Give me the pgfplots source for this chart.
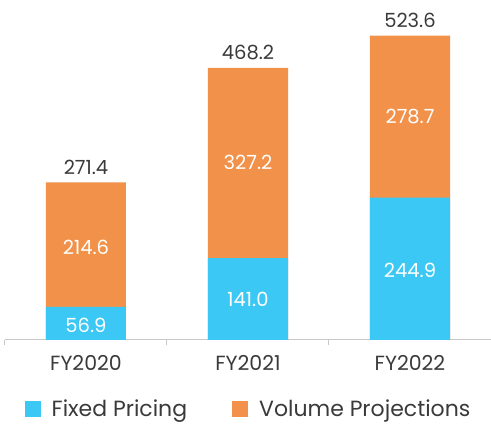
\documentclass[border=0pt]{standalone}
\usepackage{pgfplots}
\pgfplotsset{compat=1.18}
\usepackage{fontspec}
\setmainfont{Poppins}
\definecolor{cblue}{HTML}{3CC8F4}
\definecolor{corange}{HTML}{F2924A}
\definecolor{ctext}{HTML}{3A3A3A}
\definecolor{caxis}{HTML}{C8C8C8}
\begin{document}
\begin{tikzpicture}
\begin{axis}[
  scale only axis, width=486pt, height=340pt,
  xmin=-0.5, xmax=2.5, ymin=0, ymax=585,
  axis x line*=bottom, hide y axis,
  axis line style={caxis, line width=1pt, -},
  xtick={0,1,2}, xticklabels={FY2020,FY2021,FY2022},
  major x tick style={draw=none},
  minor xtick={-0.5,0.5,1.5,2.5},
  minor tick length=5pt, tick align=outside,
  minor x tick style={caxis, line width=1pt},
  xticklabel style={font=\fontsize{20.5}{24}\selectfont, text=ctext, yshift=-8pt},
  legend style={draw=none, fill=none, font=\fontsize{22}{25}\selectfont, text=ctext,
    inner sep=0pt, at={(0.5,-0.172)}, anchor=north, legend columns=2,
    nodes={inner sep=1pt},
    /tikz/every odd column/.append style={column sep=0pt},
    /tikz/every even column/.append style={column sep=44pt}},
  legend image code/.code={\fill[#1, draw=none] (0pt,-8pt) rectangle (16pt,8pt); \path[draw=none, fill=none] (0pt,0pt) rectangle (26pt,0.1pt);},
  clip=false,
]
\addlegendimage{fill=cblue, draw=none}
\addlegendentry{Fixed Pricing}
\addlegendimage{fill=corange, draw=none}
\addlegendentry{Volume Projections}
\addplot[forget plot, ybar, bar width=80pt, bar shift=0pt, fill=corange, draw=none]
  coordinates {(0,271.4) (1,468.2) (2,523.6)};
\addplot[forget plot, ybar, bar width=80pt, bar shift=0pt, fill=cblue, draw=none]
  coordinates {(0,56.9) (1,141.0) (2,244.9)};
% totals
\addplot[forget plot, draw=none, mark=none, nodes near coords, point meta=explicit symbolic,
  nodes near coords align=center,
  nodes near coords style={font=\fontsize{19.5}{22}\selectfont, text=ctext}]
  coordinates {(0,297.4)[271.4] (1,494.2)[468.2] (2,549.6)[523.6]};
% orange segment labels
\addplot[forget plot, draw=none, mark=none, nodes near coords, point meta=explicit symbolic,
  nodes near coords align=center,
  nodes near coords style={font=\fontsize{19.5}{22}\selectfont, text=white}]
  coordinates {(0,160)[214.6] (1,305)[327.2] (2,385)[278.7]};
% blue segment labels
\addplot[forget plot, draw=none, mark=none, nodes near coords, point meta=explicit symbolic,
  nodes near coords align=center,
  nodes near coords style={font=\fontsize{19.5}{22}\selectfont, text=white}]
  coordinates {(0,26)[56.9] (1,70)[141.0] (2,119)[244.9]};
\end{axis}
\pgfresetboundingbox
\path (-5pt,-85pt) rectangle (486pt,340pt);
\end{tikzpicture}
\end{document}
